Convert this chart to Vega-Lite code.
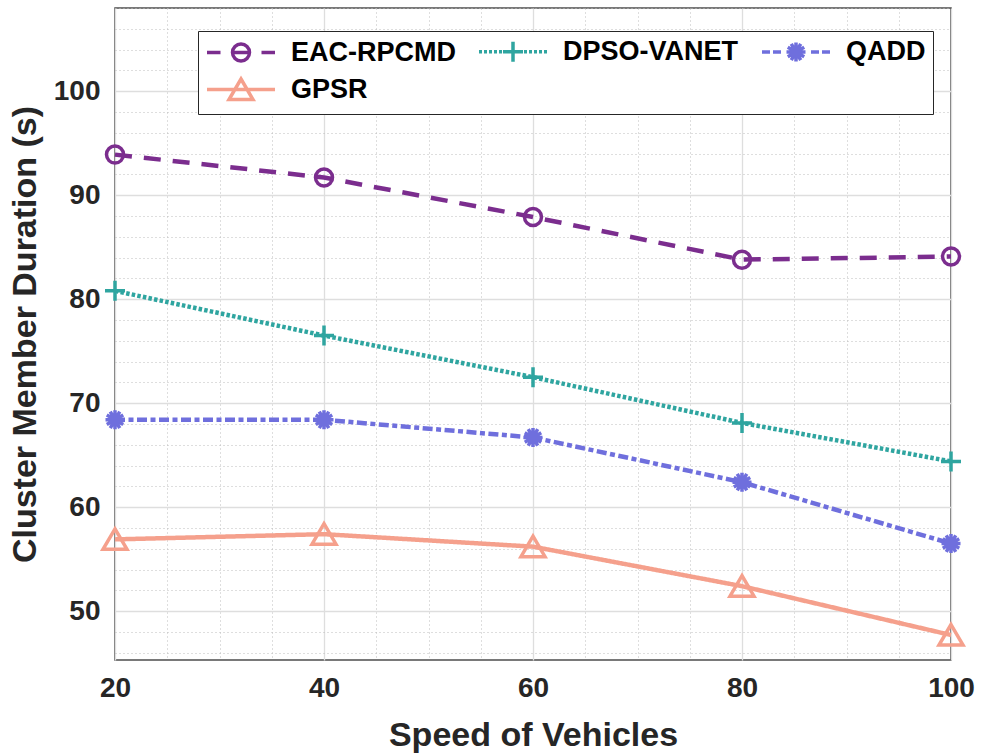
{
  "$schema": "https://vega.github.io/schema/vega-lite/v6.json",
  "width": 836,
  "height": 652,
  "autosize": "none",
  "padding": {"left": 115, "top": 8, "right": 31, "bottom": 94},
  "background": "white",
  "data": {
    "values": [
      {"series": "EAC-RPCMD", "speed": 20, "value": 93.9},
      {"series": "EAC-RPCMD", "speed": 40, "value": 91.7},
      {"series": "EAC-RPCMD", "speed": 60, "value": 87.9},
      {"series": "EAC-RPCMD", "speed": 80, "value": 83.8},
      {"series": "EAC-RPCMD", "speed": 100, "value": 84.1},
      {"series": "DPSO-VANET", "speed": 20, "value": 80.8},
      {"series": "DPSO-VANET", "speed": 40, "value": 76.5},
      {"series": "DPSO-VANET", "speed": 60, "value": 72.5},
      {"series": "DPSO-VANET", "speed": 80, "value": 68.1},
      {"series": "DPSO-VANET", "speed": 100, "value": 64.4},
      {"series": "QADD", "speed": 20, "value": 68.4},
      {"series": "QADD", "speed": 40, "value": 68.4},
      {"series": "QADD", "speed": 60, "value": 66.7},
      {"series": "QADD", "speed": 80, "value": 62.4},
      {"series": "QADD", "speed": 100, "value": 56.5},
      {"series": "GPSR", "speed": 20, "value": 56.9},
      {"series": "GPSR", "speed": 40, "value": 57.4},
      {"series": "GPSR", "speed": 60, "value": 56.2},
      {"series": "GPSR", "speed": 80, "value": 52.4},
      {"series": "GPSR", "speed": 100, "value": 47.7}
    ]
  },
  "encoding": {
    "x": {
      "field": "speed",
      "type": "quantitative",
      "scale": {"domain": [20, 100], "nice": false, "zero": false},
      "axis": {
        "title": "Speed of Vehicles",
        "values": [20, 25, 30, 35, 40, 45, 50, 55, 60, 65, 70, 75, 80, 85, 90, 95, 100],
        "labelExpr": "datum.value % 20 === 0 ? datum.label : ''",
        "labelFlush": false,
        "labelOverlap": false,
        "labelPadding": 14,
        "titlePadding": 16,
        "ticks": false,
        "gridColor": {"condition": {"test": "datum.value % 20 === 0", "value": "#dedede"}, "value": "#bcbcbc"},
        "gridDash": {"condition": {"test": "datum.value % 20 === 0", "value": []}, "value": [1, 3]},
        "gridWidth": {"condition": {"test": "datum.value % 20 === 0", "value": 1.3}, "value": 1}
      }
    },
    "y": {
      "field": "value",
      "type": "quantitative",
      "scale": {"domain": [45.3, 108], "nice": false, "zero": false},
      "axis": {
        "title": "Cluster Member Duration (s)",
        "values": [46, 48, 50, 52, 54, 56, 58, 60, 62, 64, 66, 68, 70, 72, 74, 76, 78, 80, 82, 84, 86, 88, 90, 92, 94, 96, 98, 100, 102, 104, 106, 108],
        "labelExpr": "datum.value % 10 === 0 ? datum.label : ''",
        "labelOverlap": false,
        "labelFlush": false,
        "labelPadding": 15,
        "titlePadding": 11,
        "ticks": false,
        "gridColor": {"condition": {"test": "datum.value % 10 === 0", "value": "#dedede"}, "value": "#bcbcbc"},
        "gridDash": {"condition": {"test": "datum.value % 10 === 0", "value": []}, "value": [1, 3]},
        "gridWidth": {"condition": {"test": "datum.value % 10 === 0", "value": 1.3}, "value": 1}
      }
    }
  },
  "layer": [
    {
      "mark": {"type": "line", "strokeWidth": 4.5},
      "encoding": {
        "color": {
          "field": "series", "type": "nominal",
          "scale": {"domain": ["EAC-RPCMD", "DPSO-VANET", "QADD", "GPSR"], "range": ["#7B2D8E", "#2FA5A0", "#6F6FDD", "#F5A08C"]},
          "legend": null
        },
        "strokeDash": {
          "field": "series", "type": "nominal",
          "scale": {"domain": ["EAC-RPCMD", "DPSO-VANET", "QADD", "GPSR"], "range": [[17, 12], [3.5, 2.2], [10, 3.5, 5, 3.5], [1, 0]]},
          "legend": null
        }
      }
    },
    {
      "mark": {"type": "point", "filled": false, "strokeWidth": 3.5, "size": 400, "opacity": 1},
      "encoding": {
        "color": {
          "field": "series", "type": "nominal",
          "scale": {"domain": ["EAC-RPCMD", "DPSO-VANET", "QADD", "GPSR"], "range": ["#7B2D8E", "#2FA5A0", "#6F6FDD", "#F5A08C"]},
          "legend": null
        },
        "shape": {
          "field": "series", "type": "nominal",
          "scale": {"domain": ["EAC-RPCMD", "DPSO-VANET", "QADD", "GPSR"], "range": [
            "M0.85,0A0.85,0.85 0 1 1 -0.85,0A0.85,0.85 0 1 1 0.85,0",
            "M-1,0H1M0,-1V1",
            "M-0.95,0H0.95M0,-0.95V0.95M-0.823,-0.475L0.823,0.475M-0.823,0.475L0.823,-0.475M-0.475,-0.823L0.475,0.823M-0.475,0.823L0.475,-0.823",
            "M0,-1.05L1.2,1L-1.2,1Z"
          ]},
          "legend": null
        }
      }
    },
    {
      "mark": {"type": "point", "filled": false, "strokeWidth": 3.5, "size": 400, "opacity": 0},
      "encoding": {
        "color": {
          "field": "series", "type": "nominal",
          "scale": {"domain": ["EAC-RPCMD", "DPSO-VANET", "QADD", "GPSR"], "range": ["#7B2D8E", "#2FA5A0", "#6F6FDD", "#F5A08C"]},
          "legend": {
            "orient": "none", "legendX": 83, "legendY": 23, "direction": "horizontal", "columns": 3, "title": null,
            "labelFont": "Liberation Sans", "labelFontSize": 27, "labelFontWeight": "bold", "labelColor": "#000000", "labelLimit": 500,
            "symbolSize": 400, "symbolStrokeWidth": 3.5, "symbolOpacity": 1, "labelOffset": 59,
            "columnPadding": 16, "rowPadding": 3, "padding": 7, "strokeColor": "#262626", "fillColor": "white"
          }
        },
        "shape": {
          "field": "series", "type": "nominal",
          "scale": {"domain": ["EAC-RPCMD", "DPSO-VANET", "QADD", "GPSR"], "range": [
            "M-1.15,0H0.2M4.3,0H5.65M1.5,0H3.0M3.1,0A0.85,0.85 0 1 1 1.4,0A0.85,0.85 0 1 1 3.1,0",
            "M-1.15,0H-0.85M-0.65,0H-0.35M-0.15,0H0.15M0.35,0H0.65M0.85,0H1.15M1.35,0H1.65M1.85,0H2.15M2.35,0H2.65M2.85,0H3.15M3.35,0H3.65M3.85,0H4.15M4.35,0H4.65M4.85,0H5.15M5.35,0H5.65M2.25,-1V1M1.25,0H3.25",
            "M-1.15,0H-0.35M-0.05,0H0.75M3.75,0H4.55M4.85,0H5.65M1.3,0H3.2M2.25,-0.95V0.95M1.427,-0.475L3.073,0.475M1.427,0.475L3.073,-0.475M1.775,-0.823L2.725,0.823M1.775,0.823L2.725,-0.823",
            "M-1.15,0H5.65M2.25,-1.05L3.45,1L1.05,1Z"
          ]},
          "legend": {
            "orient": "none", "legendX": 83, "legendY": 23, "direction": "horizontal", "columns": 3, "title": null,
            "labelFont": "Liberation Sans", "labelFontSize": 27, "labelFontWeight": "bold", "labelColor": "#000000", "labelLimit": 500,
            "symbolSize": 400, "symbolStrokeWidth": 3.5, "symbolOpacity": 1, "labelOffset": 59,
            "columnPadding": 16, "rowPadding": 3, "padding": 7, "strokeColor": "#262626", "fillColor": "white"
          }
        }
      }
    }
  ],
  "resolve": {"scale": {"color": "independent", "shape": "independent"}},
  "config": {
    "font": "Liberation Sans",
    "view": {"stroke": "#4d4d4d", "strokeWidth": 1.5},
    "axis": {
      "domain": false,
      "labelFont": "Liberation Sans",
      "labelFontSize": 28,
      "labelFontWeight": "bold",
      "labelColor": "#262626",
      "titleFont": "Liberation Sans",
      "titleFontSize": 34,
      "titleFontWeight": "bold",
      "titleColor": "#262626"
    }
  }
}
